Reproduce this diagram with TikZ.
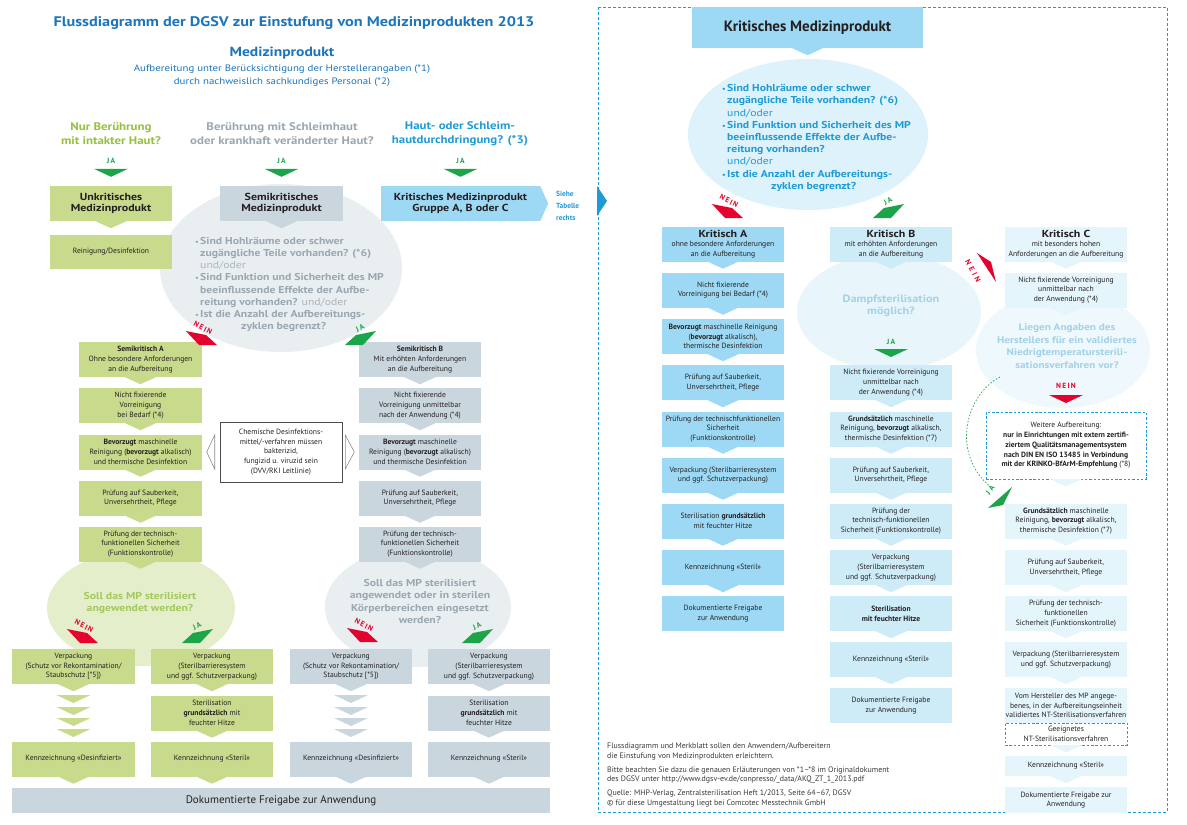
\documentclass[tikz,border=0pt]{standalone}
\usepackage{fontspec}
\setmainfont{PT Sans}
\newfontfamily\wsans[FakeStretch=1.17]{PT Sans}
\usetikzlibrary{calc}
\definecolor{cgreenbox}{HTML}{C8DA8B}
\definecolor{cgreenell}{HTML}{E5EECB}
\definecolor{cgraybox}{HTML}{C9D6DE}
\definecolor{cgrayell}{HTML}{E9EEF1}
\definecolor{ckA}{HTML}{9DD9F4}
\definecolor{ckB}{HTML}{CEEBF8}
\definecolor{ckC}{HTML}{E5F5FC}
\definecolor{cbell}{HTML}{DDF2FB}
\definecolor{cdell}{HTML}{E8F6FC}
\definecolor{clell}{HTML}{EEF8FD}
\definecolor{cred}{HTML}{E4032E}
\definecolor{cgr}{HTML}{1BA548}
\definecolor{ctitle}{HTML}{1B75BC}
\definecolor{cblue}{HTML}{1E9BD7}
\definecolor{cqgreen}{HTML}{95C13D}
\definecolor{cqgray}{HTML}{9AA7B0}
\definecolor{cund}{HTML}{AAB4BB}
\definecolor{csollg}{HTML}{A3C85B}
\definecolor{cdampf}{HTML}{A2D1E8}
\definecolor{ctxt}{HTML}{231F20}
\definecolor{cfoot}{HTML}{3A3A3A}
\newcommand\fsm{\fontsize{7.6}{9.7}\selectfont}
\newcommand\fkh{\wsans\fontsize{10.2}{11.5}\selectfont\bfseries}
\newcommand\mkptr[2]{\fill[#2] ($(#1.south)+(-16,-0.3)$) -- ($(#1.south)+(16,-0.3)$) -- ($(#1.south)+(0,7)$) -- cycle;}
\newcommand\downtri[2]{\fill[#2] ($(#1)+(-17,0)$) -- ($(#1)+(17,0)$) -- ($(#1)+(0,8)$) -- cycle;}
\newcommand\neinwedge[2]{\fill[cred] (#1) -- ++(20,4) -- ++(11,10) -- ++(-18,0) -- cycle;
 \node[lbl, text=cred, rotate=-27] (#2) at ($(#1)+(17,-3)$) {N\,E\,I\,N};}
\newcommand\jawedge[2]{\fill[cgr] (#1) -- ++(-20,4) -- ++(-11,10) -- ++(18,0) -- cycle;
 \node[lbl, text=cgr, rotate=27] (#2) at ($(#1)+(-16,-3)$) {J\,A};}
\newcommand\bul{\makebox[5pt][l]{\fontsize{7}{7}\selectfont •}}
\begin{document}
\begin{tikzpicture}[x=1pt,y=-1pt,
  every node/.style={inner sep=0pt, text=ctxt},
  bx/.style={rectangle, inner sep=1pt, align=center, minimum height=35pt, font=\fsm},
  gb/.style={bx, fill=cgreenbox, minimum width=123pt},
  sb/.style={bx, fill=cgraybox, minimum width=122pt},
  ka/.style={bx, fill=ckA, minimum width=122pt},
  kb/.style={bx, fill=ckB, minimum width=122pt},
  kc/.style={bx, fill=ckC, minimum width=122pt},
  lbl/.style={font=\fontsize{7.5}{8}\selectfont\bfseries},
  ellt/.style={align=left, font=\wsans\fontsize{10}{12.2}\selectfont\bfseries, anchor=west},
  qst/.style={align=center, font=\wsans\fontsize{11}{14}\selectfont\bfseries},
  dbox/.style={rectangle, draw=cblue, dash pattern=on 2.5pt off 1.8pt, line width=0.7pt, fill=white, align=center, inner sep=1pt, font=\fsm},
]
\useasboundingbox (0,0) rectangle (1187,825);
\fill[white] (0,0) rectangle (1187,825);
% dashed frame of the right half
\draw[cblue, line width=0.8pt, dash pattern=on 3pt off 2pt] (598,7) rectangle (1167,812);
\fill[cblue] (597,186) -- (607,201) -- (597,216) -- cycle;

% ================= LEFT HALF =================
\node[font=\wsans\fontsize{13.9}{17}\selectfont\bfseries, text=ctitle] (title) at (294,23.5) {Flussdiagramm der DGSV zur Einstufung von Medizinprodukten 2013};
\node[font=\wsans\fontsize{13.3}{16}\selectfont\bfseries, text=ctitle] (mp) at (282,53) {Medizinprodukt};
\node[font=\wsans\fontsize{9.3}{13}\selectfont, text=ctitle, align=center] (mpsub) at (282,75.5) {Aufbereitung unter Berücksichtigung der Herstellerangaben (*1)\\durch nachweislich sachkundiges Personal (*2)};
\node[qst, text=cqgreen] (q1) at (111,134) {Nur Berührung\\mit intakter Haut?};
\node[qst, text=cqgray] (q2) at (282,134) {Berührung mit Schleimhaut\\oder krankhaft veränderter Haut?};
\node[qst, text=cblue] (q3) at (460,134) {Haut- oder Schleim-\\hautdurchdringung? (*3)};

% ellipses (background)
\fill[cgrayell] (281,268) ellipse [x radius=121, y radius=84];
\fill[cgreenell] (141,608) ellipse [x radius=94, y radius=58];
\fill[cgrayell] (418,607) ellipse [x radius=93, y radius=60];

% top boxes
\node[bx, fill=cgreenbox, minimum width=122pt, font=\fkh] (u1) at (111,203.5) {Unkritisches\\Medizinprodukt};
\node[bx, fill=cgreenbox, minimum width=122pt, minimum height=34pt] (u2) at (111,252) {Reinigung/Desinfektion};
\node[bx, fill=cgraybox, minimum width=123pt, font=\fkh] (s1) at (281.5,203.5) {Semikritisches\\Medizinprodukt};
\node[bx, fill=ckA, minimum width=159pt, font=\fkh] (k1) at (460.5,203.5) {Kritisches Medizinprodukt\\Gruppe A, B oder C};
\fill[ckA] (k1.north east) -- ($(k1.east)+(8,0)$) -- (k1.south east) -- cycle;
\node[anchor=west, align=left, text=cblue, font=\fontsize{7.4}{12}\selectfont\bfseries] (siehe) at (556,206) {Siehe\\Tabelle\\rechts};

\foreach \n in {u1,s1,k1}{\coordinate (t\n) at ($(\n.north)+(0,-17)$); \downtri{t\n}{cgr}
  \node[lbl, text=cgr] (ja\n) at ($(\n.north)+(0,-25)$) {J\,A};}

\node[ellt, text=cqgray] (e1t) at (195,284.5) {%
\bul Sind Hohlräume oder schwer\\
\hspace*{5pt}zugängliche Teile vorhanden? (*6)\\
\hspace*{5pt}{\mdseries\color{cund}und/oder}\\
\bul Sind Funktion und Sicherheit des MP\\
\hspace*{5pt}beeinflussende Effekte der Aufbe-\\
\hspace*{5pt}reitung vorhanden? {\mdseries\color{cund}und/oder}\\
\bul Ist die Anzahl der Aufbereitungs-\\
\hspace*{46pt}zyklen begrenzt?};

% Semikritisch A
\node[gb] (sa1) at (140.5,359.5) {\textbf{Semikritisch A}\\Ohne besondere Anforderungen\\an die Aufbereitung};
\node[gb] (sa2) at (140.5,405.5) {Nicht fixierende\\Vorreinigung\\bei Bedarf (*4)};
\node[gb] (sa3) at (140.5,452) {\textbf{Bevorzugt} maschinelle\\Reinigung (\textbf{bevorzugt} alkalisch)\\und thermische Desinfektion};
\node[gb] (sa4) at (140.5,498) {Prüfung auf Sauberkeit,\\Unversehrtheit, Pflege};
\node[gb] (sa5) at (140.5,544) {Prüfung der technisch-\\funktionellen Sicherheit\\(Funktionskontrolle)};
% Semikritisch B
\node[sb] (sb1) at (420,359.5) {\textbf{Semikritisch B}\\Mit erhöhten Anforderungen\\an die Aufbereitung};
\node[sb] (sb2) at (420,405.5) {Nicht fixierende\\Vorreinigung unmittelbar\\nach der Anwendung (*4)};
\node[sb] (sb3) at (420,452) {\textbf{Bevorzugt} maschinelle\\Reinigung (\textbf{bevorzugt} alkalisch)\\und thermische Desinfektion};
\node[sb] (sb4) at (420,498) {Prüfung auf Sauberkeit,\\Unversehrtheit, Pflege};
\node[sb] (sb5) at (420,544) {Prüfung der technisch-\\funktionellen Sicherheit\\(Funktionskontrolle)};
% chemical note
\node[bx, draw=black!70, line width=0.6pt, fill=white, minimum width=122pt, minimum height=60pt] (chem) at (281,452) {Chemische Desinfektions-\\mittel/-verfahren müssen\\bakterizid,\\fungizid u. viruzid sein\\(DVV/RKI Leitlinie)};
\draw[black!45, line width=0.6pt, fill=white] ($(chem.west)+(-5,-17)$) -- ($(chem.west)+(-13,0)$) -- ($(chem.west)+(-5,17)$) -- cycle;
\draw[black!45, line width=0.6pt, fill=white] ($(chem.east)+(3,-17)$) -- ($(chem.east)+(12,0)$) -- ($(chem.east)+(3,17)$) -- cycle;

% sterilisation questions
\node[align=center, font=\wsans\fontsize{10}{12}\selectfont\bfseries, text=csollg] (sollg) at (140,602.5) {Soll das MP sterilisiert\\angewendet werden?};
\node[align=center, font=\wsans\fontsize{10}{12.3}\selectfont\bfseries, text=cqgray] (sollgr) at (420,601.5) {Soll das MP sterilisiert\\angewendet oder in sterilen\\Körperbereichen eingesetzt\\werden?};

% lower boxes
\node[gb] (l1) at (73.5,666.5) {Verpackung\\(Schutz vor Rekontamination/\\Staubschutz [*5])};
\node[gb] (l2) at (73.5,759) {Kennzeichnung «Desinfiziert»};
\node[gb, minimum width=122pt] (r1) at (212,666.5) {Verpackung\\(Sterilbarrieresystem\\und ggf. Schutzverpackung)};
\node[gb, minimum width=122pt] (r2) at (212,713) {Sterilisation\\\textbf{grundsätzlich} mit\\feuchter Hitze};
\node[gb, minimum width=122pt] (r3) at (212,759) {Kennzeichnung «Steril»};
\node[sb] (gl1) at (351,666.5) {Verpackung\\(Schutz vor Rekontamination/\\Staubschutz [*5])};
\node[sb] (gl2) at (351,759) {Kennzeichnung «Desinfiziert»};
\node[sb] (gr1) at (489,666.5) {Verpackung\\(Sterilbarrieresystem\\und ggf. Schutzverpackung)};
\node[sb] (gr2) at (489,713) {Sterilisation\\\textbf{grundsätzlich} mit\\feuchter Hitze};
\node[sb] (gr3) at (489,759) {Kennzeichnung «Steril»};
\node[bx, fill=cgraybox, minimum width=538pt, minimum height=25pt, font=\fontsize{11}{12}\selectfont] (bar) at (281,800.5) {Dokumentierte Freigabe zur Anwendung};

% pointers left
\foreach \n in {u1,sa1,sa2,sa3,sa4,sa5,l1,l2,r1,r2,r3}{\mkptr{\n}{cgreenbox}}
\foreach \n in {s1,sb1,sb2,sb3,sb4,sb5,gl1,gl2,gr1,gr2,gr3}{\mkptr{\n}{cgraybox}}
\foreach \yy in {695,707,718,729}{\coordinate (cg\yy) at (73.5,\yy); \downtri{cg\yy}{cgreenbox}
  \coordinate (cs\yy) at (351,\yy); \downtri{cs\yy}{cgraybox}}

% wedges left
\coordinate (w1) at (186,331); \neinwedge{w1}{n1}
\coordinate (w2) at (376,331); \jawedge{w2}{j2}
\coordinate (w3) at (67,629); \neinwedge{w3}{n3}
\coordinate (w4) at (213,629); \jawedge{w4}{j4}
\coordinate (w5) at (347,628); \neinwedge{w5}{n5}
\coordinate (w6) at (493,629); \jawedge{w6}{j6}

% ================= RIGHT HALF =================
\fill[cbell] (808,134.5) ellipse [x radius=120, y radius=75.5];
\fill[cdell] (889,312) ellipse [x radius=92, y radius=58];
\fill[clell] (1063,350) ellipse [x radius=87, y radius=58];

\node[bx, fill=ckA, minimum width=231pt, minimum height=41pt, font=\fontsize{15}{16}\selectfont\bfseries] (hdr) at (807.5,27.5) {Kritisches Medizinprodukt};
\mkptr{hdr}{ckA}

\node[ellt, text=cblue] (e2t) at (722,138) {%
\bul Sind Hohlräume oder schwer\\
\hspace*{5pt}zugängliche Teile vorhanden? (*6)\\
\hspace*{5pt}{\mdseries und/oder}\\
\bul Sind Funktion und Sicherheit des MP\\
\hspace*{5pt}beeinflussende Effekte der Aufbe-\\
\hspace*{5pt}reitung vorhanden?\\
\hspace*{5pt}{\mdseries und/oder}\\
\bul Ist die Anzahl der Aufbereitungs-\\
\hspace*{49pt}zyklen begrenzt?};

\coordinate (w7) at (712,204); \neinwedge{w7}{n7}
\coordinate (w8) at (904,204); \jawedge{w8}{j8}

% Kritisch A
\node[ka] (a1) at (723,244) {{\fkh Kritisch A}\\ohne besondere Anforderungen\\an die Aufbereitung};
\node[ka] (a2) at (723,290) {Nicht fixierende\\Vorreinigung bei Bedarf (*4)};
\node[ka] (a3) at (723,336.5) {\textbf{Bevorzugt} maschinelle Reinigung\\(\textbf{bevorzugt} alkalisch),\\thermische Desinfektion};
\node[ka] (a4) at (723,382.5) {Prüfung auf Sauberkeit,\\Unversehrtheit, Pflege};
\node[ka] (a5) at (723,429) {Prüfung der technischfunktionellen\\Sicherheit\\(Funktionskontrolle)};
\node[ka] (a6) at (723,475) {Verpackung (Sterilbarrieresystem\\und ggf. Schutzverpackung)};
\node[ka] (a7) at (723,521) {Sterilisation \textbf{grundsätzlich}\\mit feuchter Hitze};
\node[ka] (a8) at (723,567.5) {Kennzeichnung «Steril»};
\node[ka] (a9) at (723,613.5) {Dokumentierte Freigabe\\zur Anwendung};
\foreach \n in {a1,a2,a3,a4,a5,a6,a7,a8}{\mkptr{\n}{ckA}}

% Kritisch B
\node[align=center, font=\wsans\fontsize{10.5}{12}\selectfont\bfseries, text=cdampf] (dampf) at (891,306) {Dampfsterilisation\\möglich?};
\node[kb] (b1) at (891,244) {{\fkh Kritisch B}\\mit erhöhten Anforderungen\\an die Aufbereitung};
\node[kb] (b2) at (891,382.5) {Nicht fixierende Vorreinigung\\unmittelbar nach\\der Anwendung (*4)};
\node[kb] (b3) at (891,429) {\textbf{Grundsätzlich} maschinelle\\Reinigung, \textbf{bevorzugt} alkalisch,\\thermische Desinfektion (*7)};
\node[kb] (b4) at (891,475) {Prüfung auf Sauberkeit,\\Unversehrtheit, Pflege};
\node[kb] (b5) at (891,521) {Prüfung der\\technisch-funktionellen\\Sicherheit (Funktionskontrolle)};
\node[kb] (b6) at (891,567.5) {Verpackung\\(Sterilbarrieresystem\\und ggf. Schutzverpackung)};
\node[kb] (b7) at (891,613.5) {\textbf{Sterilisation}\\\textbf{mit feuchter Hitze}};
\node[kb] (b8) at (891,659.5) {Kennzeichnung «Steril»};
\node[kb] (b9) at (891,705.5) {Dokumentierte Freigabe\\zur Anwendung};
\foreach \n in {b1,b2,b3,b4,b5,b6,b7,b8}{\mkptr{\n}{ckB}}
\node[lbl, text=cgr] (jab) at (891,342) {J\,A};
\coordinate (tb) at (891,349); \downtri{tb}{cgr}

% Kritisch C
\node[align=center, font=\wsans\fontsize{9.6}{12.6}\selectfont\bfseries, text=cdampf] (liegen) at (1067,346) {Liegen Angaben des\\Herstellers für ein validiertes\\Niedrigtemperatursterili-\\sationsverfahren vor?};
\node[kc] (c1) at (1066,244) {{\fkh Kritisch C}\\mit besonders hohen\\Anforderungen an die Aufbereitung};
\node[kc] (c2) at (1066,290) {Nicht fixierende Vorreinigung\\unmittelbar nach\\der Anwendung (*4)};
\node[lbl, text=cred] (nc) at (1066,386) {N\,E\,I\,N};
\coordinate (tc) at (1066,395); \downtri{tc}{cred}
\node[dbox, minimum width=160pt, minimum height=67pt] (weit) at (1066,445.5) {Weitere Aufbereitung:\\\textbf{nur in Einrichtungen mit extern zertifi-}\\\textbf{ziertem Qualitätsmanagementsystem}\\\textbf{nach DIN EN ISO 13485 in Verbindung}\\\textbf{mit der KRINKO-BfArM-Empfehlung} (*8)};
\node[kc] (c3) at (1066,521) {\textbf{Grundsätzlich} maschinelle\\Reinigung, \textbf{bevorzugt} alkalisch,\\thermische Desinfektion (*7)};
\node[kc] (c4) at (1066,567.5) {Prüfung auf Sauberkeit,\\Unversehrtheit, Pflege};
\node[kc] (c5) at (1066,613.5) {Prüfung der technisch-\\funktionellen\\Sicherheit (Funktionskontrolle)};
\node[kc] (c6) at (1066,659.5) {Verpackung (Sterilbarrieresystem\\und ggf. Schutzverpackung)};
\node[kc] (c7) at (1066,705.5) {Vom Hersteller des MP angege-\\benes, in der Aufbereitungseinheit\\validiertes NT-Sterilisationsverfahren};
\node[dbox, minimum width=122pt, minimum height=22pt] (geeig) at (1066,734) {Geeignetes\\NT-Sterilisationsverfahren};
\node[kc, minimum height=20pt] (c8) at (1066,766) {Kennzeichnung «Steril»};
\node[kc, minimum height=26pt] (c9) at (1066,800) {Dokumentierte Freigabe zur\\Anwendung};
\foreach \n in {c1,c2,weit,c3,c4,c5,c6,geeig,c8}{\mkptr{\n}{ckC}}

% branch B -> C (NEIN)
\fill[cred] (977,253) -- (996,282) -- (991,262) -- cycle;
\node[lbl, text=cred, rotate=-62] (nbc) at (973,271) {N\hspace{2.8pt}E\hspace{2.8pt}I\hspace{2.8pt}N};
% dashed JA branch to C3
\coordinate (gs) at (1000,377);
\coordinate (ge) at (992,488);
\draw[cgr, line width=0.7pt, dash pattern=on 1.5pt off 1.8pt] (gs) .. controls (965,395) and (950,455) .. (ge);
\fill[cgr] (1012,487) -- (988,508) -- (1003,505) -- cycle;
\node[lbl, text=cgr, rotate=55] (jcc) at (990,490) {J\hspace{3pt}A};

% footer
\node[anchor=north west, align=left, text=cfoot, font=\fontsize{7.9}{9.5}\selectfont] (foot) at (607,743) {Flussdiagramm und Merkblatt sollen den Anwendern/Aufbereitern\\die Einstufung von Medizinprodukten erleichtern.\\[4.5pt]Bitte beachten Sie dazu die genauen Erläuterungen von *1–*8 im Originaldokument\\des DGSV unter http://www.dgsv-ev.de/conpresso/\_data/AKQ\_ZT\_1\_2013.pdf\\[4.5pt]Quelle: MHP-Verlag, Zentralsterilisation Heft 1/2013, Seite 64–67, DGSV\\© für diese Umgestaltung liegt bei Comcotec Messtechnik GmbH};
\end{tikzpicture}
\end{document}
